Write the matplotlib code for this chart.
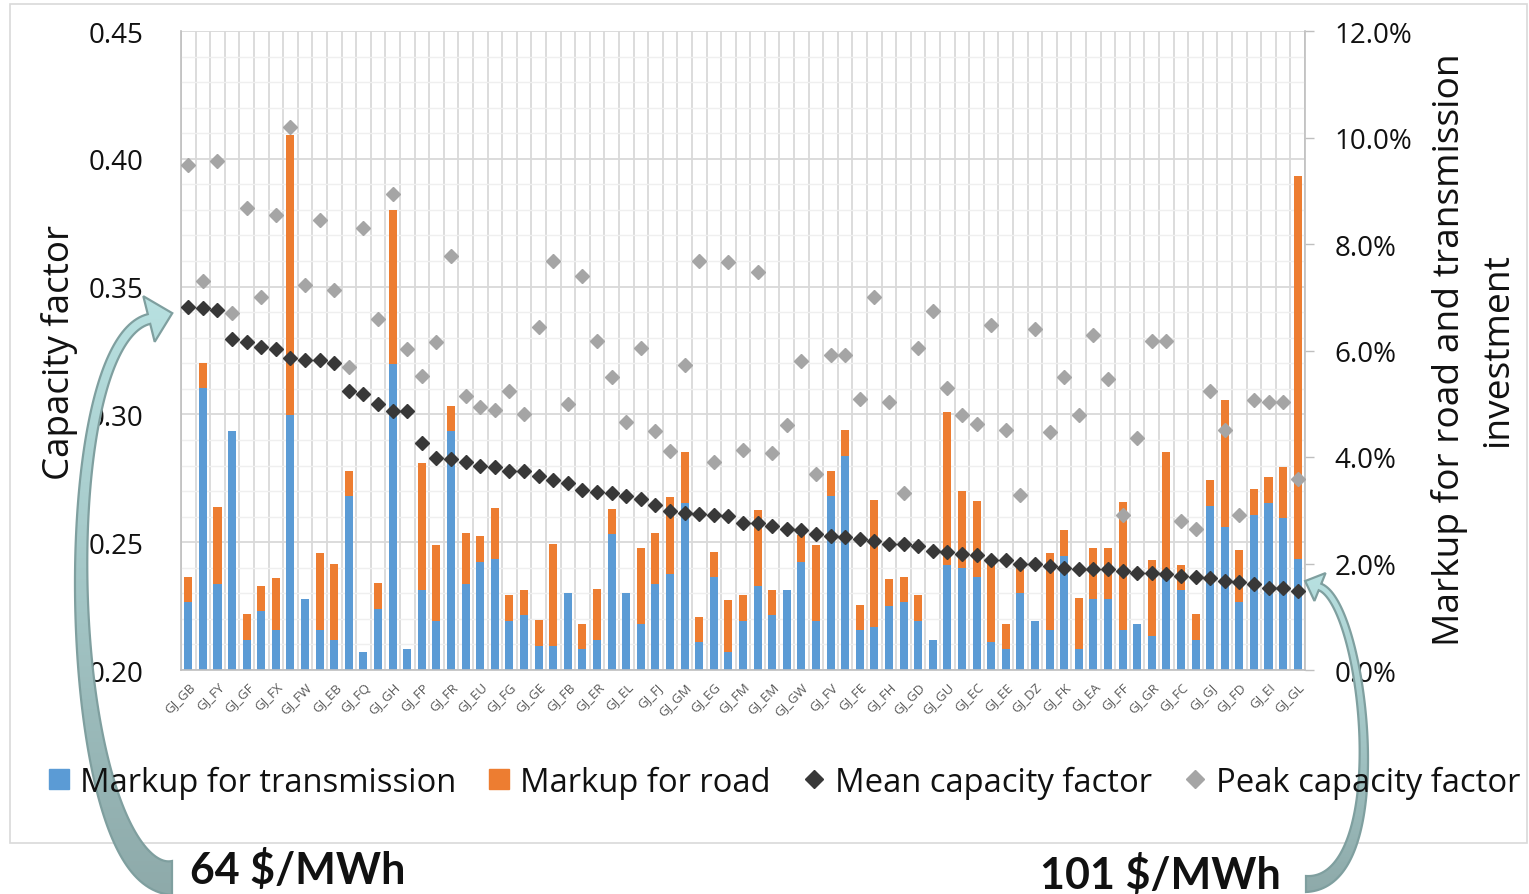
import numpy as np
import matplotlib
matplotlib.use("Agg")
import matplotlib.pyplot as plt
from matplotlib.lines import Line2D
from matplotlib.patches import Polygon, Rectangle
from matplotlib.colors import LinearSegmentedColormap
from matplotlib.ticker import FuncFormatter

plt.rcParams['font.family'] = ['Open Sans', 'DejaVu Sans']

# ---------------- data ----------------
labels = ["GJ_GB", "GJ_FY", "GJ_GF", "GJ_FX", "GJ_FW", "GJ_EB", "GJ_FQ", "GJ_GH",
          "GJ_FP", "GJ_FR", "GJ_EU", "GJ_FG", "GJ_GE", "GJ_FB", "GJ_ER", "GJ_EL",
          "GJ_FJ", "GJ_GM", "GJ_EG", "GJ_FM", "GJ_EM", "GJ_GW", "GJ_FV", "GJ_FE",
          "GJ_FH", "GJ_GD", "GJ_GU", "GJ_EC", "GJ_EE", "GJ_DZ", "GJ_FK", "GJ_EA",
          "GJ_FF", "GJ_GR", "GJ_FC", "GJ_GJ", "GJ_FD", "GJ_EI", "GJ_GL"]

# markup for transmission (%)
transmission = [1.28, 5.30, 1.62, 4.48, 0.56, 1.10, 0.75, 4.78, 1.34, 0.75,
                0.56, 3.27, 0.34, 1.15, 5.75, 0.40, 1.50, 0.92, 4.48, 1.62,
                2.03, 2.09, 0.92, 1.03, 0.46, 0.46, 1.44, 0.40, 0.56, 2.55,
                1.44, 0.86, 1.62, 1.81, 3.14, 0.52, 1.74, 0.34, 0.92, 1.57,
                1.03, 1.51, 2.03, 0.92, 3.27, 4.01, 0.75, 0.81, 1.20, 1.28,
                0.92, 0.56, 1.97, 1.92, 1.74, 0.52, 0.40, 1.45, 0.92, 0.75,
                2.14, 0.40, 1.34, 1.34, 0.75, 0.87, 0.63, 1.74, 1.51, 0.56,
                3.08, 2.68, 1.28, 2.91, 3.14, 2.85, 2.09]

# markup for road (%)
road = [0.47, 0.47, 1.44, 0.00, 0.49, 0.48, 0.97, 5.27, 0.00, 1.44,
        1.44, 0.47, 0.00, 0.49, 2.89, 0.00, 2.39, 1.43, 0.47, 0.96,
        0.48, 0.96, 0.48, 0.48, 0.47, 1.91, 0.00, 0.47, 0.96, 0.48,
        0.00, 1.44, 0.96, 1.43, 0.96, 0.48, 0.48, 0.97, 0.48, 1.43,
        0.48, 0.00, 0.50, 1.43, 0.47, 0.49, 0.48, 2.39, 0.50, 0.47,
        0.48, 0.00, 2.87, 1.44, 1.44, 1.47, 0.47, 0.47, 0.00, 1.44,
        0.48, 0.96, 0.95, 0.95, 2.40, 0.00, 1.43, 2.35, 0.46, 0.49,
        0.48, 2.39, 0.97, 0.48, 0.49, 0.96, 7.19]

mean_cf = [0.3420, 0.3415, 0.3410, 0.3296, 0.3282, 0.3263, 0.3254, 0.3219, 0.3214, 0.3212,
           0.3200, 0.3092, 0.3079, 0.3041, 0.3013, 0.3013, 0.2890, 0.2829, 0.2826, 0.2815,
           0.2800, 0.2793, 0.2780, 0.2777, 0.2759, 0.2745, 0.2733, 0.2703, 0.2698, 0.2691,
           0.2679, 0.2668, 0.2646, 0.2621, 0.2616, 0.2611, 0.2607, 0.2604, 0.2576, 0.2576,
           0.2563, 0.2551, 0.2546, 0.2534, 0.2523, 0.2520, 0.2511, 0.2506, 0.2493, 0.2492,
           0.2485, 0.2467, 0.2462, 0.2455, 0.2450, 0.2429, 0.2429, 0.2415, 0.2415, 0.2406,
           0.2401, 0.2397, 0.2397, 0.2394, 0.2388, 0.2380, 0.2380, 0.2376, 0.2369, 0.2362,
           0.2359, 0.2350, 0.2345, 0.2336, 0.2322, 0.2322, 0.2310]

peak_cf = [0.3977, 0.3520, 0.3993, 0.3398, 0.3809, 0.3461, 0.3779, 0.4126, 0.3506, 0.3762,
           0.3487, 0.3186, 0.3730, 0.3375, 0.3863, 0.3254, 0.3149, 0.3284, 0.3620, 0.3071,
           0.3027, 0.3016, 0.3092, 0.3001, 0.3342, 0.3599, 0.3041, 0.3540, 0.3289, 0.3146,
           0.2969, 0.3258, 0.2936, 0.2855, 0.3195, 0.3599, 0.2815, 0.3596, 0.2859, 0.3557,
           0.2848, 0.2957, 0.3209, 0.2765, 0.3232, 0.3232, 0.3062, 0.3461, 0.3048, 0.2691,
           0.3261, 0.3403, 0.3102, 0.2997, 0.2962, 0.3351, 0.2939, 0.2684, 0.3335, 0.2932,
           0.3146, 0.2997, 0.3310, 0.3139, 0.2605, 0.2908, 0.3286, 0.3286, 0.2581, 0.2553,
           0.3093, 0.2939, 0.2607, 0.3058, 0.3048, 0.3048, 0.2747]

left_note = "64 $/MWh"
right_note = "101 $/MWh"

# ---------------- styles ----------------
C_BLUE = '#5b9bd5'
C_ORANGE = '#ed7d31'
C_MEAN = '#383838'
C_PEAK = '#a5a5a5'

n = len(transmission)
xs = np.arange(n)

W, H = 1529, 895
fig = plt.figure(figsize=(W / 100, H / 100), dpi=100)
pos = [181 / W, 1 - 671 / H, (1305 - 181) / W, (671 - 32) / H]

# background grid axes (capacity factor scale)
ax_grid = fig.add_axes(pos)
ax_grid.set_xlim(-0.5, n - 0.5)
ax_grid.set_ylim(0.20, 0.45)
ax_grid.set_yticks(np.arange(0.20, 0.4501, 0.05))
ax_grid.set_yticks(np.arange(0.20, 0.4501, 0.01), minor=True)
ax_grid.set_xticks([])
ax_grid.set_xticks(np.arange(-0.5, n, 1.0), minor=True)
ax_grid.grid(which='minor', axis='y', color='#efefef', lw=1.0)
ax_grid.grid(which='major', axis='y', color='#d9d9d9', lw=1.3)
ax_grid.grid(which='minor', axis='x', color='#d9d9d9', lw=1.3)
ax_grid.tick_params(which='both', length=0, labelleft=False, labelbottom=False)
for s in ax_grid.spines.values():
    s.set_visible(False)

# bars axes (markup scale, right)
ax_bar = fig.add_axes(pos)
ax_bar.patch.set_visible(False)
ax_bar.bar(xs, transmission, width=0.55, color=C_BLUE, zorder=2)
ax_bar.bar(xs, road, width=0.55, bottom=transmission, color=C_ORANGE, zorder=2)
ax_bar.set_xlim(-0.5, n - 0.5)
ax_bar.set_ylim(0, 12)
ax_bar.yaxis.tick_right()
ax_bar.set_yticks(np.arange(0, 12.01, 2))
ax_bar.yaxis.set_major_formatter(FuncFormatter(lambda v, p: f"{v:.1f}%"))
ax_bar.tick_params(axis='y', which='major', length=6.5, width=1.0, color='#bfbfbf',
                   pad=15, labelsize=20, labelcolor='#111111')
ax_bar.set_xticks(xs[::2])
ax_bar.set_xticklabels(labels, rotation=45, ha='right', rotation_mode='anchor',
                       fontsize=9.5, color='#595959')
ax_bar.tick_params(axis='x', length=0, pad=7)
for k in ('left', 'top'):
    ax_bar.spines[k].set_visible(False)
ax_bar.spines['right'].set_color('#bfbfbf')
ax_bar.spines['bottom'].set_color('#bfbfbf')
ax_bar.spines['right'].set_linewidth(1.2)
ax_bar.spines['bottom'].set_linewidth(1.2)

# capacity factor axes (left)
ax_cf = fig.add_axes(pos)
ax_cf.patch.set_visible(False)
ax_cf.plot(xs, peak_cf, linestyle='none', marker='D', ms=7.2, color=C_PEAK,
           mec=C_PEAK, zorder=3)
ax_cf.plot(xs, mean_cf, linestyle='none', marker='D', ms=7.6, color=C_MEAN,
           mec=C_MEAN, zorder=4)
ax_cf.set_xlim(-0.5, n - 0.5)
ax_cf.set_ylim(0.20, 0.45)
ax_cf.set_yticks(np.arange(0.20, 0.4501, 0.05))
ax_cf.yaxis.set_major_formatter(FuncFormatter(lambda v, p: f"{v:.2f}"))
ax_cf.tick_params(axis='y', length=0, pad=27, labelsize=20, labelcolor='#111111')
ax_cf.set_xticks([])
for k in ('right', 'top', 'bottom'):
    ax_cf.spines[k].set_visible(False)
ax_cf.spines['left'].set_color('#bfbfbf')
ax_cf.spines['left'].set_linewidth(1.2)

# axis titles
fig.text(60 / W, 1 - 352 / H, "Capacity factor", rotation=90, ha='center', va='center',
         fontsize=26.5, color='#111111')
fig.text(1474 / W, 1 - 350 / H, "Markup for road and transmission\ninvestment",
         rotation=90, ha='center', va='center', fontsize=26.7, color='#111111',
         linespacing=1.45, multialignment='center')

# legend
handles = [
    Line2D([], [], linestyle='none', marker='s', ms=14.5, color=C_BLUE),
    Line2D([], [], linestyle='none', marker='s', ms=14.5, color=C_ORANGE),
    Line2D([], [], linestyle='none', marker='D', ms=9.5, color=C_MEAN),
    Line2D([], [], linestyle='none', marker='D', ms=9.5, color=C_PEAK),
]
leg_labels = ["Markup for transmission", "Markup for road",
              "Mean capacity factor", "Peak capacity factor"]
fig.legend(handles, leg_labels, loc='center', bbox_to_anchor=(783 / W, 1 - 783 / H),
           ncol=4, frameon=False, fontsize=23.6, handlelength=0.8, handletextpad=0.25,
           columnspacing=0.9, labelcolor='#111111', borderpad=0, borderaxespad=0)

# overlay for decorations (pixel coordinates)
ax_ov = fig.add_axes([0, 0, 1, 1])
ax_ov.patch.set_visible(False)
ax_ov.axis('off')

ax_ov.add_patch(Rectangle((10, 5), 1517, 839, fill=False, ec='#d9d9d9', lw=1.2))


def bezier(P, t):
    P0, P1, P2, P3 = [np.array(p, float) for p in P]
    t = t[:, None]
    pts = (1 - t) ** 3 * P0 + 3 * (1 - t) ** 2 * t * P1 + 3 * (1 - t) * t ** 2 * P2 + t ** 3 * P3
    d = 3 * (1 - t) ** 2 * (P1 - P0) + 6 * (1 - t) * t * (P2 - P1) + 3 * t ** 2 * (P3 - P2)
    return pts, d


def curved_arrow(ax, P, w0, w1, head_hw, head_len, c_top, c_bot, ec, power=3):
    t = np.linspace(0, 1, 120)
    pts, d = bezier(P, t)
    d = d / np.linalg.norm(d, axis=1)[:, None]
    nrm = np.stack([-d[:, 1], d[:, 0]], axis=1)
    w = w1 + (w0 - w1) * (1 - t) ** power
    side_a = pts + nrm * (w / 2)[:, None]
    side_b = pts - nrm * (w / 2)[:, None]
    end, dd, nn = pts[-1], d[-1], nrm[-1]
    tip = end + dd * head_len
    c1 = end + nn * head_hw
    c2 = end - nn * head_hw
    poly = np.vstack([side_a, c1, tip, c2, side_b[::-1]])
    outline = Polygon(poly, closed=True, fc='none', ec=ec, lw=1.6, zorder=6)
    ax.add_patch(outline)
    xmin, ymin = poly.min(0)
    xmax, ymax = poly.max(0)
    grad = np.linspace(0, 1, 256)[:, None]
    cmap = LinearSegmentedColormap.from_list('g', [c_top, c_bot])
    im = ax.imshow(grad, cmap=cmap, extent=(xmin, xmax, ymax, ymin), aspect='auto',
                   zorder=5, interpolation='bilinear')
    im.set_clip_path(outline)


curved_arrow(ax_ov, [(172, 879), (62, 879), (49, 345), (149, 320)],
             w0=34, w1=10, head_hw=23.5, head_len=24,
             c_top='#b8e1e1', c_bot='#8eaaaa', ec='#7f9f9f', power=3)
curved_arrow(ax_ov, [(1306, 885), (1396, 885), (1365, 606), (1320, 588)],
             w0=16, w1=7, head_hw=15, head_len=16,
             c_top='#b8e1e1', c_bot='#8eaaaa', ec='#7f9f9f', power=3)

ax_ov.text(190, 870, left_note, ha='left', va='center', fontsize=31,
           fontweight='bold', family=['Lato', 'DejaVu Sans'], color='#111111')
ax_ov.text(1040, 875, right_note, ha='left', va='center', fontsize=31,
           fontweight='bold', family=['Lato', 'DejaVu Sans'], color='#111111')

ax_ov.set_xlim(0, W)
ax_ov.set_ylim(H, 0)

fig.savefig("out.png", dpi=100)
